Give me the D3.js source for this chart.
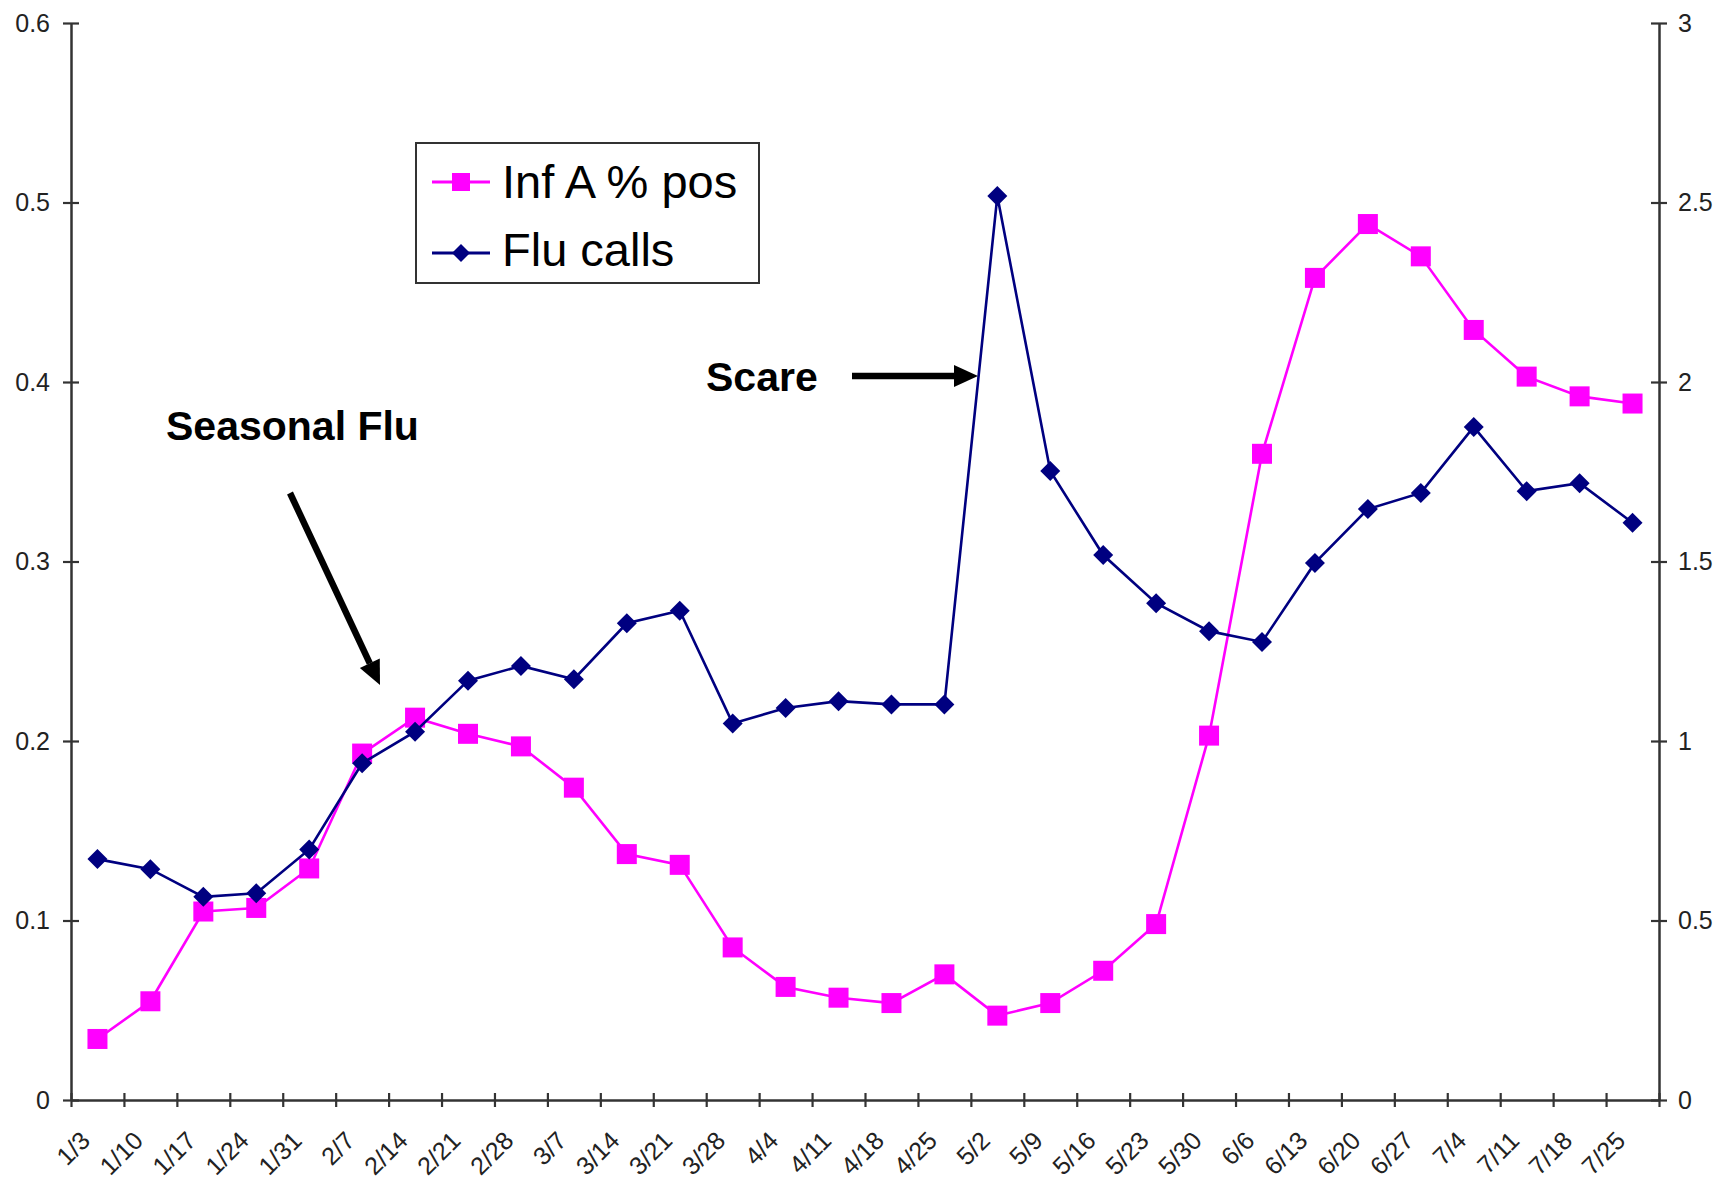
<!DOCTYPE html>
<html>
<head>
<meta charset="utf-8">
<script src="https://cdn.jsdelivr.net/npm/d3@7"></script>
<style>
  html, body { margin: 0; padding: 0; background: #fff; }
  svg { display: block; }
  text { font-family: "Liberation Sans", Arial, sans-serif; }
</style>
</head>
<body>
<svg id="chart" width="1733" height="1184"></svg>
<script>
// ---- data ----
const weeks = ["1/3","1/10","1/17","1/24","1/31","2/7","2/14","2/21","2/28","3/7","3/14","3/21","3/28","4/4","4/11","4/18","4/25","5/2","5/9","5/16","5/23","5/30","6/6","6/13","6/20","6/27","7/4","7/11","7/18","7/25"];
const infAPctPos = [0.034,0.055,0.105,0.107,0.129,0.193,0.213,0.204,0.197,0.174,0.137,0.131,0.085,0.063,0.057,0.054,0.070,0.047,0.054,0.072,0.098,0.203,0.360,0.458,0.488,0.470,0.429,0.403,0.392,0.388];
const fluCalls = [0.671,0.643,0.566,0.576,0.698,0.938,1.026,1.168,1.209,1.172,1.328,1.363,1.049,1.092,1.111,1.102,1.102,2.518,1.752,1.518,1.384,1.306,1.276,1.496,1.646,1.691,1.875,1.696,1.718,1.608];
const leftTicks = [0,0.1,0.2,0.3,0.4,0.5,0.6];
const rightTicks = [0,0.5,1,1.5,2,2.5,3];
const seriesNames = ["Inf A % pos","Flu calls"];
const annotations = [
  {text:"Seasonal Flu", x:166, y:440, ax1:290, ay1:493, ax2:380, ay2:685},
  {text:"Scare", x:706, y:391, ax1:852, ay1:376, ax2:978, ay2:376}
];

// ---- layout ----
const L = 71, R = 1659, T = 23, B = 1100;
const svg = d3.select("#chart");
const pink = "#ff00ff", navy = "#000080", axisCol = "#333";

const xi = d3.scaleLinear().domain([0, weeks.length]).range([L, R]);
const cx = i => xi(i + 0.5);
const yL = d3.scaleLinear().domain([0, 0.6]).range([B, T]);
const yR = d3.scaleLinear().domain([0, 3]).range([B, T]);

// x axis
const gx = svg.append("g").attr("transform", `translate(0,${B})`)
  .call(d3.axisBottom(xi).tickValues(d3.range(weeks.length + 1)).tickFormat("").tickSizeOuter(0).tickSizeInner(7));
gx.selectAll(".tick line").attr("y1", -7).attr("y2", 7);
// left axis
const gl = svg.append("g").attr("transform", `translate(${L},0)`)
  .call(d3.axisLeft(yL).tickValues(leftTicks).tickFormat(d => d === 0 ? "0" : d3.format(".1f")(d)).tickSizeOuter(0).tickSizeInner(8).tickPadding(13));
gl.selectAll(".tick line").attr("x1", -8).attr("x2", 8);
// right axis
const gr = svg.append("g").attr("transform", `translate(${R},0)`)
  .call(d3.axisRight(yR).tickValues(rightTicks).tickFormat(d => String(d)).tickSizeOuter(0).tickSizeInner(8).tickPadding(11));
gr.selectAll(".tick line").attr("x1", -8).attr("x2", 8);

[gx, gl, gr].forEach(g => {
  g.select(".domain").attr("stroke", axisCol).attr("stroke-width", 2.5);
  g.selectAll(".tick line").attr("stroke", axisCol).attr("stroke-width", 2.2);
  g.selectAll(".tick text").attr("fill", "#222").style("font-size", "25px").style("font-family", "'Liberation Sans', Arial, sans-serif");
});

// x labels rotated
svg.append("g").selectAll("text").data(weeks).join("text")
  .attr("transform", (d, i) => `translate(${cx(i) - 12},${1136}) rotate(-45)`)
  .attr("text-anchor", "end")
  .attr("dy", "0.35em")
  .attr("fill", "#222")
  .style("font-size", "25px")
  .text(d => d);

// lines
const lineL = d3.line().x((d, i) => cx(i)).y(d => yL(d));
const lineR = d3.line().x((d, i) => cx(i)).y(d => yR(d));
svg.append("path").datum(infAPctPos).attr("d", lineL).attr("fill", "none").attr("stroke", pink).attr("stroke-width", 2.6);
svg.append("g").selectAll("rect").data(infAPctPos).join("rect")
  .attr("x", (d, i) => cx(i) - 10).attr("y", d => yL(d) - 10)
  .attr("width", 20).attr("height", 20).attr("fill", pink);

svg.append("path").datum(fluCalls).attr("d", lineR).attr("fill", "none").attr("stroke", navy).attr("stroke-width", 2.6);
const diamond = (x, y, r) => `M${x},${y - r}L${x + r},${y}L${x},${y + r}L${x - r},${y}Z`;
svg.append("g").selectAll("path").data(fluCalls).join("path")
  .attr("d", (d, i) => diamond(cx(i), yR(d), 10)).attr("fill", navy);

// legend
const lg = svg.append("g");
lg.append("rect").attr("x", 416).attr("y", 143).attr("width", 343).attr("height", 140)
  .attr("fill", "#fff").attr("stroke", axisCol).attr("stroke-width", 2);
lg.append("line").attr("x1", 432).attr("x2", 490).attr("y1", 182).attr("y2", 182).attr("stroke", pink).attr("stroke-width", 3);
lg.append("rect").attr("x", 452).attr("y", 173).attr("width", 18).attr("height", 18).attr("fill", pink);
lg.append("line").attr("x1", 432).attr("x2", 490).attr("y1", 253).attr("y2", 253).attr("stroke", navy).attr("stroke-width", 3);
lg.append("path").attr("d", diamond(461, 253, 9)).attr("fill", navy);
lg.append("text").attr("x", 502).attr("y", 198).style("font-size", "47px").attr("fill", "#000").text(seriesNames[0]);
lg.append("text").attr("x", 502).attr("y", 266).style("font-size", "47px").attr("fill", "#000").text(seriesNames[1]);

// annotations
const ag = svg.append("g");
annotations.forEach(a => {
  ag.append("text").attr("x", a.x).attr("y", a.y).style("font-size", "41px").style("font-weight", "bold").attr("fill", "#000").text(a.text);
  const ang = Math.atan2(a.ay2 - a.ay1, a.ax2 - a.ax1);
  const hl = 24, hw = 11;
  const bx = a.ax2 - hl * Math.cos(ang), by = a.ay2 - hl * Math.sin(ang);
  ag.append("line").attr("x1", a.ax1).attr("y1", a.ay1).attr("x2", bx).attr("y2", by)
    .attr("stroke", "#000").attr("stroke-width", 6.5);
  const px = -Math.sin(ang), py = Math.cos(ang);
  ag.append("path").attr("d", `M${a.ax2},${a.ay2}L${bx + px * hw},${by + py * hw}L${bx - px * hw},${by - py * hw}Z`).attr("fill", "#000");
});
</script>
</body>
</html>
